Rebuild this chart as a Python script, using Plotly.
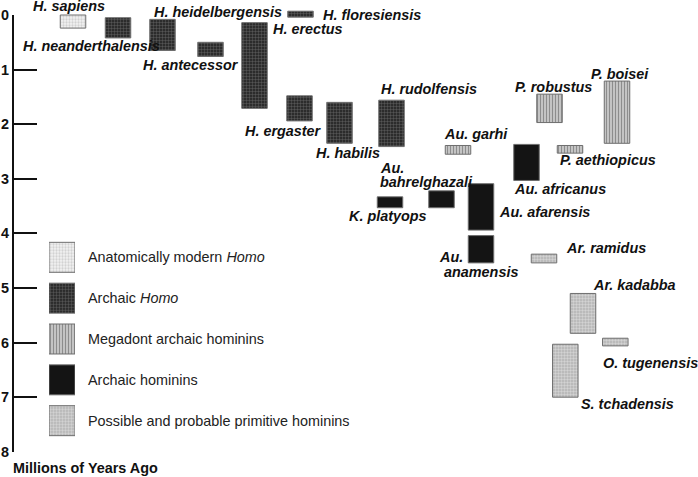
import plotly.graph_objects as go

W, H = 698, 477

# ---------------- data ----------------
species = ["H. sapiens", "H. neanderthalensis", "H. heidelbergensis", "H. antecessor",
           "H. erectus", "H. floresiensis", "H. ergaster", "H. habilis", "H. rudolfensis",
           "Au. garhi", "K. platyops", "Au. bahrelghazali", "Au. afarensis", "Au. anamensis",
           "Au. africanus", "P. robustus", "P. aethiopicus", "P. boisei", "Ar. ramidus",
           "Ar. kadabba", "O. tugenensis", "S. tchadensis"]
group = ["modern", "archaic_homo", "archaic_homo", "archaic_homo",
         "archaic_homo", "archaic_homo", "archaic_homo", "archaic_homo", "archaic_homo",
         "megadont", "archaic", "archaic", "archaic", "archaic",
         "archaic", "megadont", "megadont", "megadont", "primitive",
         "primitive", "primitive", "primitive"]
# time ranges, millions of years ago
start_mya = [0.00, 0.05, 0.08, 0.50, 0.14, -0.07, 1.48, 1.60, 1.56,
             2.39, 3.33, 3.22, 3.09, 4.04, 2.37, 1.45, 2.39, 1.21, 4.38,
             5.10, 5.92, 6.03]
end_mya = [0.24, 0.42, 0.65, 0.76, 1.71, 0.04, 1.94, 2.35, 2.41,
           2.55, 3.53, 3.53, 3.94, 4.54, 3.03, 1.97, 2.53, 2.35, 4.54,
           5.83, 6.06, 7.00]
# horizontal column (chart x units)
column = [73, 118, 162.5, 210.5, 254.5, 300.5, 299.5, 339.5, 391.5,
          458, 390, 441.5, 481, 481, 526.5, 549.5, 570, 617, 544,
          583, 615.3, 565.3]

y_ticks = [0, 1, 2, 3, 4, 5, 6, 7, 8]
axis_title = "Millions of Years Ago"

legend_keys = ["modern", "archaic_homo", "megadont", "archaic", "primitive"]
legend_text = ["Anatomically modern <i>Homo</i>", "Archaic <i>Homo</i>",
               "Megadont archaic hominins", "Archaic hominins",
               "Possible and probable primitive hominins"]

# species labels: text, left x (px), centre y (px)
label_text = ["H. sapiens", "H. neanderthalensis", "H. heidelbergensis", "H. antecessor",
              "H. floresiensis", "H. erectus", "H. ergaster", "H. habilis", "H. rudolfensis",
              "Au. garhi", "P. robustus", "P. boisei", "P. aethiopicus", "Au. africanus",
              "Au. afarensis", "Ar. ramidus", "Au.", "bahrelghazali", "K. platyops",
              "Au.", "anamensis", "Ar. kadabba", "O. tugenensis", "S. tchadensis"]
label_x = [31.7, 21.7, 153.3, 141.7, 321.7, 271.7, 244, 315, 380,
           442.7, 514.3, 590, 559.3, 512.7, 497.7, 565, 379, 379, 348.3,
           438.3, 442.7, 591.7, 602.3, 580]
label_y = [5.5, 45.7, 12.3, 65.3, 15, 29.3, 130.7, 152.7, 89.3,
           134, 86.7, 74, 160, 189.3, 211.7, 247.7, 167.7, 181.7, 216,
           257.3, 272.3, 285, 363.3, 404.3]

# ---------------- styles ----------------
styles = {
    "modern": dict(color="#eeeeee", pattern=dict(shape=".", bgcolor="#f2f2f2", fgcolor="#b0b0b0",
                                                size=3, solidity=0.45)),
    "archaic_homo": dict(color="#333333", pattern=dict(shape=".", bgcolor="#1e1e1e", fgcolor="#8a8a8a",
                                                      size=3, solidity=0.5)),
    "megadont": dict(color="#aaaaaa", pattern=dict(shape="|", bgcolor="#c4c4c4", fgcolor="#555555",
                                                  size=3, solidity=0.35)),
    "archaic": dict(color="#141414", pattern=dict(shape="")),
    "primitive": dict(color="#cccccc", pattern=dict(shape=".", bgcolor="#b2b2b2", fgcolor="#f4f4f4",
                                                   size=3, solidity=0.5)),
}
FONT = "Liberation Sans, Arial, Helvetica, sans-serif"
FS = 14.4
EDGE = dict(color="#6e6e6e", width=1)

# pixel geometry of the visible time axis
y_top_px, y_bot_px = 15, 451.8
y_min, y_max = y_ticks[0], y_ticks[-1]
px_per_unit = (y_bot_px - y_top_px) / (y_max - y_min)
full_top = y_min - y_top_px / px_per_unit
full_bot = y_max + (H - y_bot_px) / px_per_unit

fig = go.Figure()

# empty trace so the tick-bearing time axis subplot is created
fig.add_trace(go.Scatter(x=[], y=[], xaxis="x", yaxis="y", hoverinfo="skip", showlegend=False))

for key in legend_keys:
    idx = [i for i, g in enumerate(group) if g == key]
    st = styles[key]
    # species bars on a full-height copy of the time axis (same scale) so nothing clips
    fig.add_trace(go.Bar(
        x=[column[i] for i in idx],
        base=[start_mya[i] for i in idx],
        y=[end_mya[i] - start_mya[i] for i in idx],
        width=25.5,
        marker=dict(color=st["color"], pattern=st["pattern"], line=EDGE),
        hoverinfo="skip", showlegend=False,
        xaxis="x", yaxis="y3",
    ))
    # legend swatch (horizontal bar on a categorical second axis)
    fig.add_trace(go.Bar(
        y=[key], x=[1], orientation="h", width=0.734,
        marker=dict(color=st["color"], pattern=st["pattern"], line=EDGE),
        hoverinfo="skip", showlegend=False, xaxis="x2", yaxis="y2",
    ))

annotations = []
for t, lx, ly in zip(label_text, label_x, label_y):
    annotations.append(dict(
        text=f"<b><i>{t}</i></b>", xref="paper", yref="paper",
        x=lx / W, y=1 - ly / H, xanchor="left", yanchor="middle",
        showarrow=False, borderpad=0,
        font=dict(family=FONT, size=FS, color="#111111")))
for key, txt in zip(legend_keys, legend_text):
    annotations.append(dict(
        text=txt, xref="paper", yref="y2", x=86.7 / W, y=key,
        xanchor="left", yanchor="middle", showarrow=False, borderpad=0,
        font=dict(family=FONT, size=FS, color="#222222")))
annotations.append(dict(
    text=f"<b>{axis_title}</b>", xref="paper", yref="paper",
    x=12 / W, y=1 - 468.3 / H, xanchor="left", yanchor="middle",
    showarrow=False, borderpad=0,
    font=dict(family=FONT, size=FS, color="#111111")))

fig.update_layout(
    width=W, height=H,
    margin=dict(l=0, r=0, t=0, b=0),
    paper_bgcolor="white", plot_bgcolor="rgba(0,0,0,0)",
    barmode="overlay",
    xaxis=dict(domain=[14 / W, 1], range=[14, W], visible=False, fixedrange=True, anchor="y"),
    yaxis=dict(domain=[1 - y_bot_px / H, 1 - y_top_px / H], range=[y_max, y_min],
               tickvals=y_ticks, ticktext=[f"<b>{v}</b>" for v in y_ticks],
               ticks="inside", ticklen=23, tickwidth=2, tickcolor="#111111",
               showline=True, linewidth=2, linecolor="#111111",
               showgrid=False, zeroline=False, automargin=False,
               tickfont=dict(family=FONT, size=FS, color="#111111"),
               anchor="x"),
    yaxis3=dict(domain=[0, 1], range=[full_bot, full_top], visible=False,
                anchor="x", automargin=False),
    xaxis2=dict(domain=[49 / W, 75 / W], range=[0, 1], visible=False, anchor="y2"),
    yaxis2=dict(domain=[1 - 441.1 / H, 1 - 236.9 / H], visible=False,
                categoryorder="array", categoryarray=legend_keys[::-1],
                range=[-0.5, 4.5], anchor="x2", type="category"),
    annotations=annotations,
    showlegend=False,
)

fig.write_html("out.html", config={"displayModeBar": False, "staticPlot": True},
               post_script="document.body.style.margin='0px';document.body.style.overflow='hidden';")
